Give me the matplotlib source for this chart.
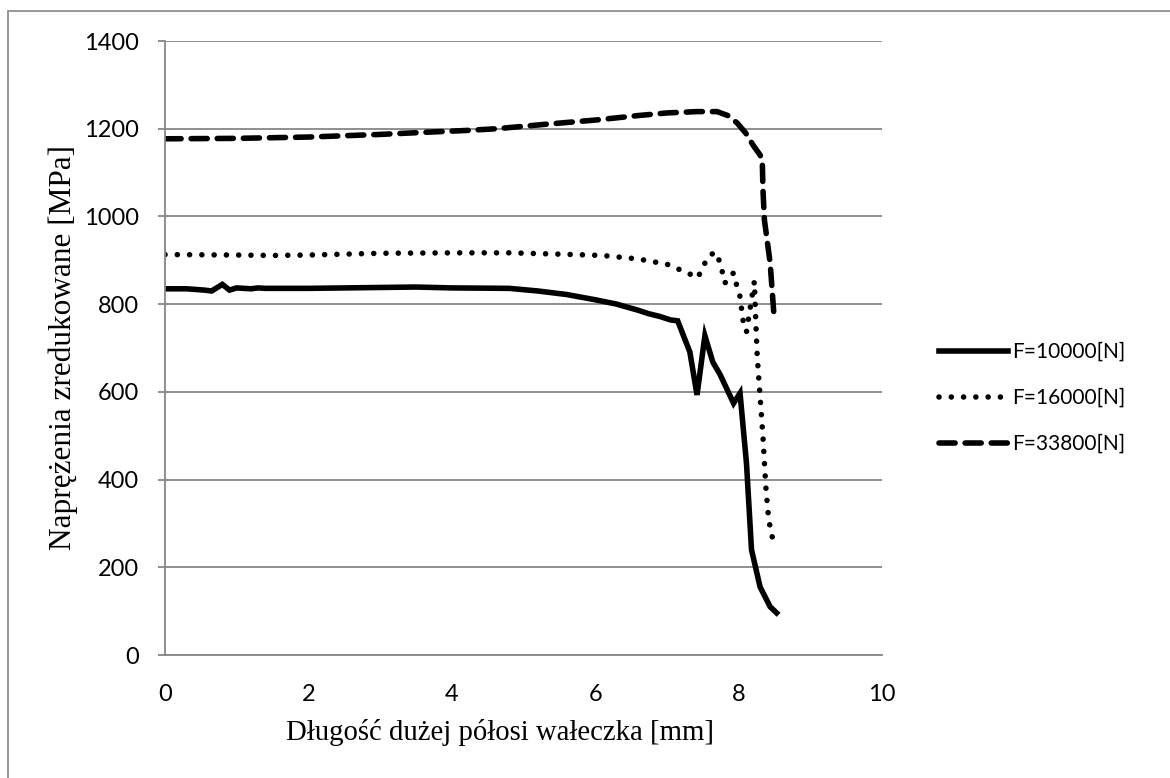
import numpy as np
import matplotlib
matplotlib.use("Agg")
import matplotlib.pyplot as plt
from matplotlib.patches import Rectangle

# F=10000[N]
x_10000 = [0, 0.3, 0.55, 0.65, 0.8, 0.9, 1.0, 1.2, 1.3, 1.4, 2, 3, 3.5, 4, 4.8, 5.2, 5.6,
           6.0, 6.3, 6.6, 6.75, 6.9, 7.05, 7.15, 7.32, 7.42, 7.53, 7.64, 7.74, 7.93, 8.02,
           8.11, 8.18, 8.3, 8.44, 8.53]
y_10000 = [835, 835, 832, 830, 845, 832, 837, 835, 837, 836, 836, 838, 839, 837, 836, 830, 822,
           810, 800, 786, 778, 772, 764, 762, 691, 593, 728, 668, 640, 574, 597,
           437, 240, 155, 110, 96]

# F=16000[N]
x_16000 = [0, 1, 1.5, 2, 3, 4, 4.8, 5.5, 6.1, 6.6, 7.0, 7.29, 7.43, 7.57, 7.67, 7.74, 7.81,
           7.86, 7.93, 7.97, 8.02, 8.06, 8.11, 8.17, 8.22, 8.24, 8.26, 8.3, 8.34, 8.38, 8.42, 8.49]
y_16000 = [913, 912, 911, 912, 916, 917, 917, 914, 911, 903, 891, 871, 860, 907, 919, 896, 848,
           862, 871, 845, 817, 764, 737, 800, 852, 760, 680, 589, 497, 383, 308, 253]

# F=33800[N]
x_33800 = [0, 1, 2, 3, 3.65, 4.2, 4.63, 5.3, 6.02, 6.6, 7.0, 7.42, 7.7, 7.85, 7.98, 8.1,
           8.2, 8.3, 8.33, 8.34, 8.36, 8.44, 8.49]
y_33800 = [1177, 1178, 1181, 1187, 1192, 1196, 1200, 1210, 1220, 1230, 1236, 1239, 1239, 1230,
           1213, 1190, 1163, 1140, 1128, 1060, 992, 894, 782]

labels = ["F=10000[N]", "F=16000[N]", "F=33800[N]"]
x_ticks = [0, 2, 4, 6, 8, 10]
y_ticks = [0, 200, 400, 600, 800, 1000, 1200, 1400]

W, H = 1170, 778
fig = plt.figure(figsize=(W / 100, H / 100), dpi=100)
grey = "#868686"

# outer chart border
fig.patches.append(Rectangle((8 / W, -0.1), 1.2, 1 - 11 / H + 0.1, transform=fig.transFigure,
                             fill=False, edgecolor=grey, linewidth=1.2))

ax = fig.add_axes([165 / W, (H - 655) / H, (882 - 165) / W, (655 - 41) / H])

ax.plot(x_10000, y_10000, color="black", lw=4.0, solid_joinstyle="miter", label=labels[0])
ax.plot(x_16000, y_16000, color="black", lw=4.0, dashes=(0.01, 2.2), dash_capstyle="round",
        label=labels[1])
ax.plot(x_33800, y_33800, color="black", lw=4.0, dashes=(2.9, 1.8), dash_capstyle="round",
        label=labels[2])

ax.set_xlim(0, 10)
ax.set_ylim(0, 1400)
ax.set_xticks(x_ticks)
ax.set_yticks(y_ticks)
ax.yaxis.grid(True, color=grey, lw=1.3)
ax.set_axisbelow(True)
for s in ["top", "right"]:
    ax.spines[s].set_visible(False)
for s in ["left", "bottom"]:
    ax.spines[s].set_color(grey)
    ax.spines[s].set_linewidth(1.3)
ax.tick_params(axis="y", length=5, color=grey, width=1.3, pad=14)
ax.tick_params(axis="x", length=0, pad=21)
for t in ax.get_xticklabels() + ax.get_yticklabels():
    t.set_family("Lato")
    t.set_fontsize(17)

fig.text(500 / W, 1 - 733 / H, "Długość dużej półosi wałeczka [mm]", family="Liberation Serif",
         fontsize=20.7, ha="center", va="center")
fig.text(63 / W, 1 - 348 / H, "Naprężenia zredukowane [MPa]", family="Liberation Serif",
         fontsize=22.5, ha="center", va="center", rotation=90)

leg = ax.legend(loc="center left", bbox_to_anchor=(1.08, 0.4186), frameon=False,
                prop={"family": "Lato", "size": 15}, handlelength=3.3, handletextpad=0.2,
                labelspacing=1.25, borderaxespad=0, borderpad=0)

fig.savefig("out.png", dpi=100)
